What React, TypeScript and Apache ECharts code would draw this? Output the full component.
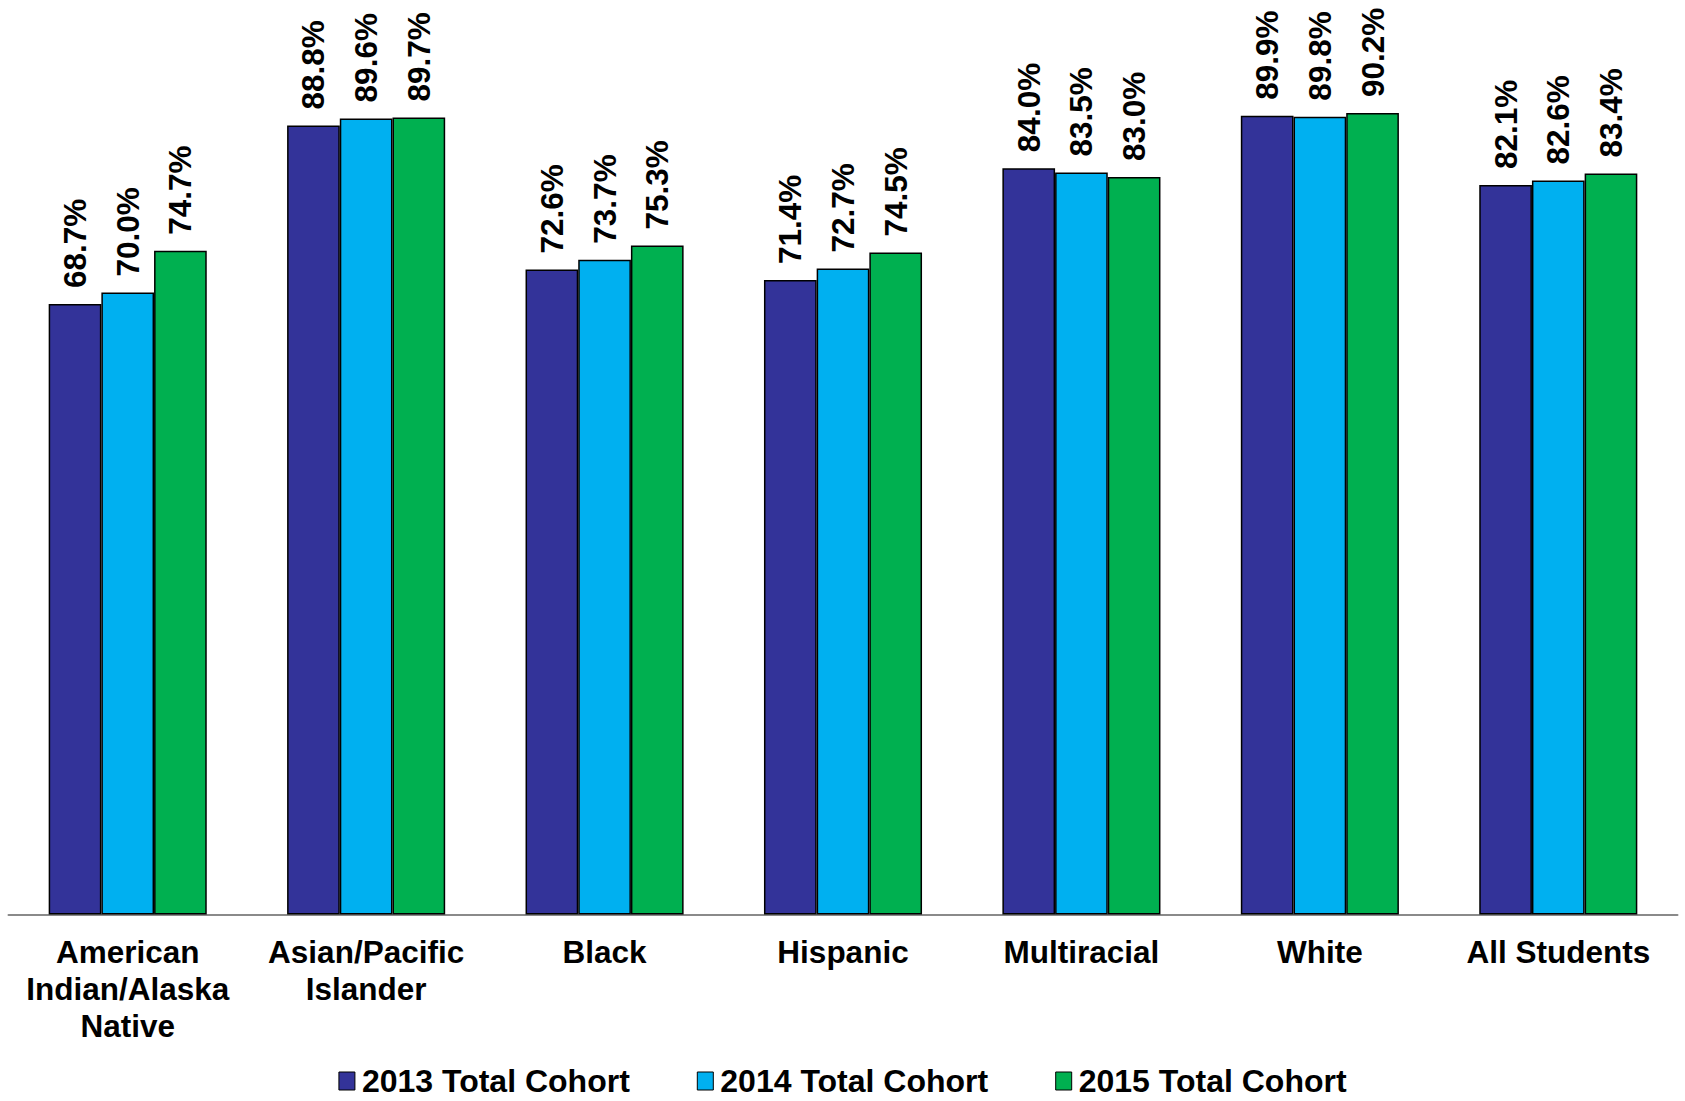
import React, { useEffect, useRef } from "react";
import * as echarts from "echarts";

const categories = [
  "American\nIndian/Alaska\nNative",
  "Asian/Pacific\nIslander",
  "Black",
  "Hispanic",
  "Multiracial",
  "White",
  "All Students",
];

const seriesNames = ["2013 Total Cohort", "2014 Total Cohort", "2015 Total Cohort"];

const cohort2013 = [68.7, 88.8, 72.6, 71.4, 84.0, 89.9, 82.1];
const cohort2014 = [70.0, 89.6, 73.7, 72.7, 83.5, 89.8, 82.6];
const cohort2015 = [74.7, 89.7, 75.3, 74.5, 83.0, 90.2, 83.4];

const colors = ["#333399", "#00B0F0", "#00B050"];
const FONT = "'Liberation Sans', Arial, Helvetica, sans-serif";

export default function App() {
  const ref = useRef<HTMLDivElement>(null);

  useEffect(() => {
    if (!ref.current) return;
    const chart = echarts.init(ref.current, undefined, { renderer: "svg" });
    const values = [cohort2013, cohort2014, cohort2015];

    chart.setOption({
      animation: false,
      backgroundColor: "#ffffff",
      grid: { left: 8.5, right: 7.5, top: 26, bottom: 186.5 },
      legend: {
        data: seriesNames,
        left: "center",
        top: 1065,
        padding: 0,
        itemWidth: 16,
        itemHeight: 18,
        itemGap: 67,
        icon: "rect",
        textStyle: {
          fontFamily: FONT,
          fontWeight: "bold",
          fontSize: 32,
          lineHeight: 30,
          color: "#000",
          padding: [0, 0, 0, 2],
        },
        itemStyle: { borderColor: "#000", borderWidth: 1 },
      },
      xAxis: {
        type: "category",
        data: categories,
        axisLine: { lineStyle: { color: "#8a8a8a", width: 2 } },
        axisTick: { length: 10, lineStyle: { color: "#8a8a8a", width: 1.5 } },
        axisLabel: {
          fontFamily: FONT,
          fontWeight: "bold",
          fontSize: 31.5,
          color: "#000",
          lineHeight: 37,
          margin: 19,
          interval: 0,
        },
      },
      yAxis: {
        type: "value",
        min: 0,
        max: 100,
        show: false,
        splitLine: { show: false },
      },
      series: seriesNames.map((name, i) => ({
        name,
        type: "bar",
        data: values[i],
        barGap: "0%",
        barCategoryGap: "33.7%",
        itemStyle: { color: colors[i], borderColor: "#000", borderWidth: 1.5 },
        label: {
          show: true,
          position: "top",
          rotate: 90,
          align: "left",
          verticalAlign: "middle",
          distance: 16,
          fontFamily: FONT,
          fontWeight: "bold",
          fontSize: 31.5,
          color: "#000",
          formatter: (p: any) => `${Number(p.value).toFixed(1)}%`,
        },
      })),
    });

    return () => chart.dispose();
  }, []);

  return (
    <div
      ref={ref}
      style={{ position: "absolute", left: 0, top: 0, width: 1685, height: 1101 }}
    />
  );
}
